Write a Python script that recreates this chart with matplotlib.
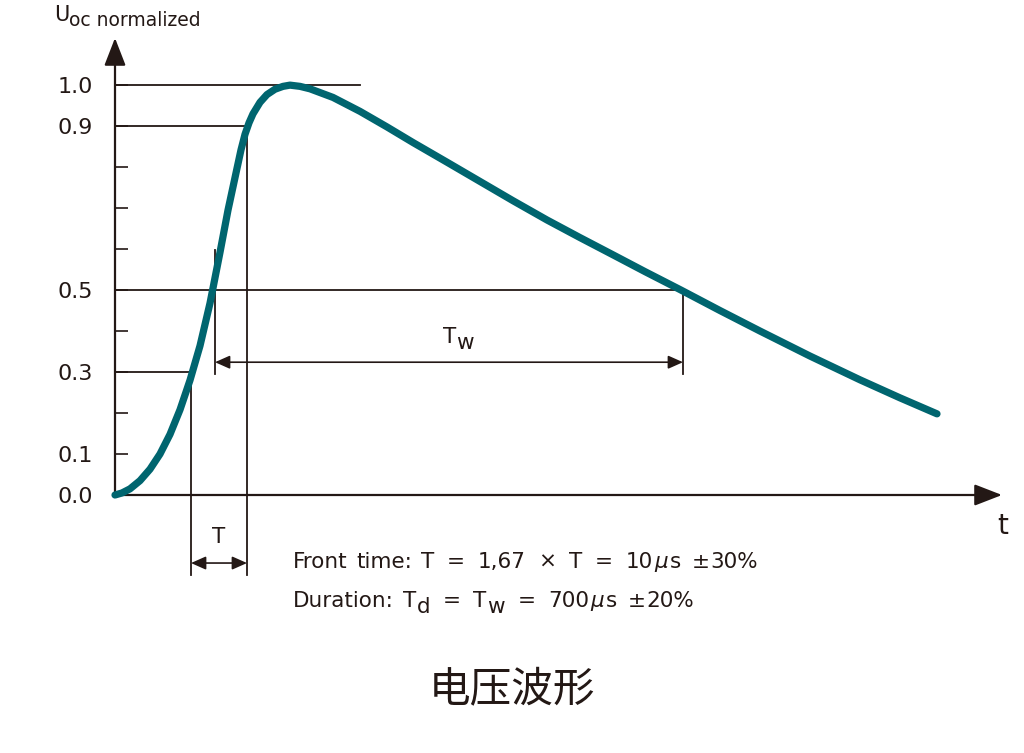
import matplotlib
matplotlib.use("Agg")
import matplotlib.pyplot as plt

plt.rcParams['font.family'] = ['DejaVu Sans', 'Noto Sans CJK SC']

# ---- data (time in arbitrary drawing units) ----
t_curve = [0, 7, 15, 25, 35, 45, 55, 65, 75, 85, 95, 98, 105, 113, 122, 126,
           130, 134, 138, 145, 152, 160, 168, 175, 185, 195, 218, 245, 272,
           298, 332, 365, 398, 432, 465, 498, 530, 566, 605, 645, 695, 745,
           785, 822]
u_curve = [0.0, 0.005, 0.015, 0.035, 0.063, 0.100, 0.148, 0.208, 0.280,
           0.364, 0.468, 0.505, 0.592, 0.695, 0.797, 0.842, 0.880, 0.908,
           0.930, 0.958, 0.977, 0.990, 0.997, 1.0, 0.997, 0.991, 0.970,
           0.936, 0.898, 0.860, 0.812, 0.765, 0.718, 0.671, 0.628, 0.586,
           0.545, 0.500, 0.450, 0.400, 0.339, 0.281, 0.237, 0.198]

ytick_vals = [0.0, 0.1, 0.2, 0.3, 0.4, 0.5, 0.6, 0.7, 0.8, 0.9, 1.0]
ytick_labels = ['0.0', '0.1', '', '0.3', '', '0.5', '', '', '', '0.9', '1.0']

t30, t50, t90, t50_decay = 76, 100, 132, 568
t_peak_line_end = 245
x_max, y_max = 887, 1.115

title = '电压波形'
# caption pieces: (text, gap before in spaces, lowered-as-subscript, italic)
caption1 = [('Front', 0, False, False), ('time:', 1.25, False, False),
            ('T', 1.3, False, False), ('=', 1.85, False, False),
            ('1,67', 1.85, False, False), ('×', 1.85, False, False),
            ('T', 1.85, False, False), ('=', 1.85, False, False),
            ('10', 1.85, False, False), ('μ', 0.15, False, True),
            ('s', 0.3, False, False), ('±', 1.5, False, False),
            ('30%', 0.2, False, False)]
caption2 = [('Duration:', 0, False, False), ('T', 1.3, False, False),
            ('d', 0.05, True, False), ('=', 1.85, False, False),
            ('T', 1.85, False, False), ('w', 0.05, True, False),
            ('=', 1.85, False, False), ('700', 1.85, False, False),
            ('μ', 0.15, False, True), ('s', 0.3, False, False),
            ('±', 1.5, False, False), ('20%', 0.2, False, False)]

INK = '#231815'
TEAL = '#00656F'

W, H = 1024, 753
fig = plt.figure(figsize=(W / 100, H / 100), dpi=100)
renderer = fig.canvas.get_renderer()
ax = fig.add_axes([115 / W, (H - 495) / H, 887 / W, 457 / H])
ax.set_xlim(0, x_max)
ax.set_ylim(0, y_max)
for s in ax.spines.values():
    s.set_visible(False)
ax.set_xticks([])
ax.set_yticks(ytick_vals)
ax.set_yticklabels(ytick_labels)
ax.tick_params(axis='y', direction='in', length=9, width=1.2, colors=INK,
               pad=16, labelsize=16, labelcolor=INK)

# axes arrows
ax.annotate('', xy=(0, y_max), xytext=(0, 0), annotation_clip=False,
            arrowprops=dict(arrowstyle='-|>,head_length=0.85,head_width=0.33',
                            mutation_scale=20, color=INK, lw=1.6,
                            shrinkA=0, shrinkB=0))
ax.annotate('', xy=(x_max, 0), xytext=(0, 0), annotation_clip=False,
            arrowprops=dict(arrowstyle='-|>,head_length=0.85,head_width=0.33',
                            mutation_scale=20, color=INK, lw=1.6,
                            shrinkA=0, shrinkB=0))

lw_h = 1.3
# horizontal reference lines
ax.plot([0, t_peak_line_end], [1.0, 1.0], color=INK, lw=lw_h, clip_on=False)
ax.plot([0, t90], [0.9, 0.9], color=INK, lw=lw_h, clip_on=False)
ax.plot([0, t50_decay], [0.5, 0.5], color=INK, lw=lw_h, clip_on=False)
ax.plot([0, t30], [0.3, 0.3], color=INK, lw=lw_h, clip_on=False)

# vertical reference lines
ax.plot([t30, t30], [0.3, -0.195], color=INK, lw=lw_h, clip_on=False)
ax.plot([t90, t90], [0.9, -0.195], color=INK, lw=lw_h, clip_on=False)
ax.plot([t50, t50], [0.598, 0.295], color=INK, lw=lw_h, clip_on=False)
ax.plot([t50_decay, t50_decay], [0.5, 0.295], color=INK, lw=lw_h,
        clip_on=False)

# dimension arrows
dim = dict(arrowstyle='<|-|>,head_length=0.45,head_width=0.2',
           mutation_scale=20, color=INK, lw=1.2, shrinkA=0, shrinkB=0)
ax.annotate('', xy=(t30, -0.166), xytext=(t90, -0.166),
            annotation_clip=False, arrowprops=dim)
ax.annotate('', xy=(t50, 0.324), xytext=(t50_decay, 0.324),
            annotation_clip=False, arrowprops=dim)

# waveform
ax.plot(t_curve, u_curve, color=TEAL, lw=5.2, solid_capstyle='round',
        solid_joinstyle='round', clip_on=False, zorder=5)


def put(x, y, s, **kw):
    kw.setdefault('color', INK)
    kw.setdefault('va', 'baseline')
    return fig.text(x / W, 1 - y / H, s, **kw)


def text_width(s, **kw):
    t = fig.text(0, 0, s, **kw)
    w = t.get_window_extent(renderer).width
    t.remove()
    return w


def layout(x0, base, pieces, size):
    sp = text_width('a a', fontsize=size) - text_width('aa', fontsize=size)
    x = x0
    for s, gap, low, ital in pieces:
        x += gap * sp
        t = put(x, base + (6 if low else 0), s, fontsize=size, ha='left',
                style='italic' if ital else 'normal')
        x += t.get_window_extent(renderer).width


# in-plot labels
put(219, 543, 'T', fontsize=15.5, ha='center')
layout(443, 343, [('T', 0, False, False), ('w', 0.0, True, False)], 15.5)

# axis titles
put(54, 21, 'U', fontsize=15)
put(69, 26, 'oc normalized', fontsize=13.5)
put(1003, 534, 't', fontsize=20, ha='center')

# captions
layout(293, 568, caption1, 15.5)
layout(293, 607, caption2, 15.5)

put(512, 690, title, fontsize=30, ha='center', va='center',
    family=['Noto Sans CJK SC'])

fig.savefig('out.png', dpi=100, facecolor='white')
